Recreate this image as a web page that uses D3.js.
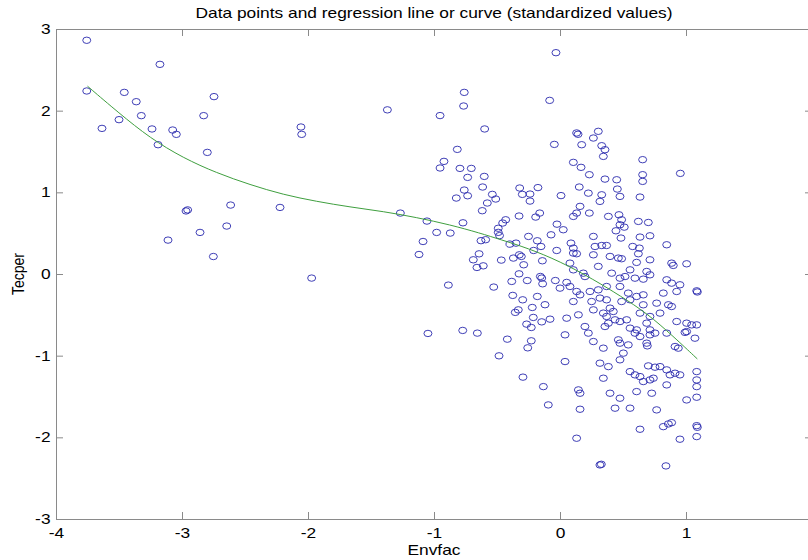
<!DOCTYPE html>
<html>
<head>
<meta charset="utf-8">
<script src="https://cdn.jsdelivr.net/npm/d3@7"></script>
<style>
  html, body { margin: 0; padding: 0; background: #fff; }
  svg { display: block; }
  text { font-family: "Liberation Sans", Arial, Helvetica, sans-serif; }
</style>
</head>
<body>
<svg id="chart" width="808" height="560"></svg>
<script>
// ---------- data ----------
const chartTitle = "Data points and regression line or curve (standardized values)";
const xLabel = "Envfac";
const yLabel = "Tecper";
const xTicks = [-4, -3, -2, -1, 0, 1, 2];
const yTicks = [-3, -2, -1, 0, 1, 2, 3];

// [Envfac, Tecper] observations (standardized)
const observations = [
  // far left group
  [-3.756, 2.862], [-3.756, 2.241], [-3.635, 1.783], [-3.5, 1.89], [-3.458, 2.224],
  [-3.363, 2.11], [-3.323, 1.939], [-3.238, 1.776], [-3.175, 2.567], [-3.19, 1.583],
  [-3.074, 1.763], [-3.045, 1.71], [-2.955, 0.785], [-2.968, 0.772], [-3.111, 0.415],
  [-2.857, 0.509], [-2.828, 1.939], [-2.799, 1.489], [-2.746, 2.172], [-2.751, 0.214],
  [-2.645, 0.587], [-2.614, 0.844], [-2.222, 0.815], [-2.056, 1.8], [-2.05, 1.71],
  [-1.971, -0.05],
  // upper middle
  [-0.032, 2.71], [-0.76, 2.224], [-0.765, 2.057], [-1.37, 2.01], [-0.952, 1.94], [-0.082, 2.126],
  [-0.598, 1.776], [-0.045, 1.587], [-0.815, 1.526], [-0.921, 1.379], [-0.952, 1.298],
  [-0.794, 1.293], [-0.704, 1.293], [-0.733, 1.183], [-0.601, 1.195], [-0.614, 1.065],
  [-0.76, 1.028], [-0.823, 0.93], [-0.733, 0.958], [-0.537, 0.975], [-0.51, 0.918],
  [-0.577, 0.869], [-0.617, 0.775], [-0.32, 1.053], [-0.299, 0.975], [-0.238, 0.979],
  [-0.175, 1.058], [0.008, 0.96], [-0.238, 0.893], [-1.267, 0.746], [-1.056, 0.648],
  [-0.77, 0.627], [-0.979, 0.509], [-0.871, 0.501], [-1.087, 0.398], [-1.119, 0.239],
  [-0.431, 0.664], [-0.455, 0.624], [-0.49, 0.56], [-0.49, 0.51], [-0.48, 0.47],
  [-0.325, 0.71], [-0.193, 0.697], [-0.161, 0.746], [-0.627, 0.408], [-0.59, 0.42],
  [-0.25, 0.46], [-0.18, 0.407], [-0.071, 0.48], [-0.024, 0.61], [-0.397, 0.366],
  [-0.349, 0.378], [-0.642, 0.247], [-0.688, 0.174], [-0.659, 0.08], [-0.609, 0.1],
  [-0.466, 0.17], [-0.37, 0.195], [-0.323, 0.235], [-0.307, 0.215], [-0.288, 0.113],
  [-0.209, 0.288], [-0.14, 0.162], [-0.026, 0.288], [-0.151, 0.337], [-0.886, -0.136],
  [-0.526, -0.16], [-0.383, -0.091], [-0.325, 0.002], [-0.26, -0.08], [-0.156, -0.03],
  [-0.145, -0.05], [-0.037, -0.08], [0.026, 0.542],
  // lower middle
  [-0.138, -0.12], [-0.375, -0.262], [-0.296, -0.316], [-0.18, -0.275], [-0.22, -0.41],
  [-0.119, -0.376], [-0.331, -0.439], [-0.355, -0.47], [-0.212, -0.532], [-0.145, -0.586],
  [-0.265, -0.614], [-0.228, -0.655], [-1.048, -0.728], [-0.772, -0.691], [-0.656, -0.724],
  [-0.418, -0.798], [-0.228, -0.818], [-0.256, -0.904], [-0.484, -1.002], [-0.294, -1.263],
  // right upper cluster
  [0.132, 1.727], [0.143, 1.711], [0.304, 1.747], [0.265, 1.665], [0.331, 1.571],
  [0.357, 1.522], [0.344, 1.44], [0.172, 1.583], [0.656, 1.4], [0.955, 1.232],
  [0.106, 1.367], [0.167, 1.306], [0.233, 1.216], [0.357, 1.162], [0.45, 1.154],
  [0.656, 1.216], [0.656, 1.134], [0.153, 1.065], [0.455, 1.04], [0.476, 0.95],
  [0.225, 0.99], [0.331, 0.97], [0.317, 0.889], [0.635, 0.942], [0.159, 0.828],
  [0.132, 0.746], [0.106, 0.705], [0.233, 0.746], [0.384, 0.705], [0.468, 0.725],
  [0.489, 0.664], [0.476, 0.603], [0.51, 0.574], [0.444, 0.529], [0.622, 0.644],
  [0.701, 0.631], [0.265, 0.46], [0.484, 0.44], [0.635, 0.452], [0.714, 0.468],
  [0.847, 0.358], [0.087, 0.378], [0.106, 0.317], [0.106, 0.256], [0.132, 0.248],
  [0.278, 0.337], [0.331, 0.349], [0.37, 0.349], [0.265, 0.235], [0.577, 0.337],
  [0.63, 0.317], [0.622, 0.248], [0.886, 0.133], [0.899, 0.105], [1.005, 0.125],
  [0.397, 0.215], [0.463, 0.195], [0.489, 0.187], [0.714, 0.174], [0.608, 0.142],
  [0.079, 0.133], [0.053, -0.103], [0.106, 0.051], [0.185, 0.01], [0.198, -0.031],
  [0.304, 0.093], [0.41, 0.01], [0.476, -0.051], [0.516, -0.031], [0.556, 0.051],
  [0.688, 0.031], [0.714, -0.01], [0.661, -0.063], [0.595, -0.051], [0.847, -0.071],
  [0.886, -0.112], [0.952, -0.132],
  // right lower cluster
  [0.0, -0.173], [0.079, -0.153], [0.132, -0.214], [0.159, -0.255], [0.238, -0.214],
  [0.304, -0.194], [0.37, -0.153], [0.476, -0.153], [0.542, -0.234], [0.608, -0.275],
  [0.661, -0.255], [0.82, -0.234], [0.926, -0.214], [1.085, -0.206], [1.09, -0.22],
  [0.106, -0.337], [0.251, -0.337], [0.317, -0.295], [0.37, -0.316], [0.397, -0.418],
  [0.423, -0.459], [0.489, -0.337], [0.556, -0.316], [0.661, -0.377], [0.767, -0.357],
  [0.86, -0.377], [0.886, -0.398],
  [-0.079, -0.553], [0.053, -0.541], [0.146, -0.5], [0.265, -0.439], [0.344, -0.479],
  [0.37, -0.52], [0.437, -0.561], [0.529, -0.561], [0.635, -0.479], [0.714, -0.52],
  [0.794, -0.479], [0.926, -0.582], [1.005, -0.602], [1.045, -0.623], [1.085, -0.623],
  [0.198, -0.643], [0.357, -0.643], [0.384, -0.602], [0.476, -0.582], [0.556, -0.663],
  [0.608, -0.684], [0.688, -0.602], [0.714, -0.684], [0.754, -0.724], [0.847, -0.724],
  [1.005, -0.705], [0.992, -0.715], [1.071, -0.786],
  [0.04, -0.745], [0.225, -0.724], [0.265, -0.827], [0.344, -0.908], [0.463, -0.806],
  [0.476, -0.847], [0.542, -0.868], [0.595, -0.724], [0.635, -0.766], [0.688, -0.847],
  [0.693, -0.88], [0.714, -0.745], [0.913, -0.888], [0.939, -0.908],
  [0.503, -0.969], [0.476, -1.051], [0.317, -1.092], [0.04, -1.072], [0.384, -1.134],
  [0.556, -1.195], [0.595, -1.235], [0.635, -1.256], [0.701, -1.125], [0.754, -1.141],
  [0.794, -1.134], [0.847, -1.174], [0.873, -1.235], [0.913, -1.215], [0.952, -1.235],
  [0.714, -1.297], [0.741, -1.276], [0.661, -1.317], [1.085, -1.195],
  [0.344, -1.276], [-0.132, -1.379], [0.146, -1.419], [0.159, -1.46], [0.397, -1.46],
  [0.476, -1.521], [0.608, -1.44], [0.728, -1.46], [0.847, -1.358], [1.085, -1.297],
  [1.085, -1.379], [1.085, -1.509], [1.005, -1.542],
  [-0.093, -1.603], [0.159, -1.656], [0.437, -1.643], [0.556, -1.643], [0.767, -1.664],
  [0.635, -1.901], [0.82, -1.869], [0.86, -1.836], [0.886, -1.82], [1.085, -1.857],
  [1.09, -1.877], [1.085, -1.991], [0.952, -2.023], [0.132, -2.011],
  [0.317, -2.338], [0.328, -2.33], [0.841, -2.35]
];

// regression curve
const curveEnvfac = [-3.75, -3.5, -3.254, -2.99, -2.725, -2.46, -2.196, -1.931, -1.667, -1.402,
                     -1.137, -0.873, -0.635, -0.47, -0.26, 0.0, 0.27, 0.48, 0.69, 0.9, 1.09];
const curveTecper = [2.30, 1.97, 1.665, 1.42, 1.237, 1.093, 0.971, 0.888, 0.82, 0.766,
                     0.692, 0.603, 0.501, 0.42, 0.319, 0.155, -0.07, -0.27, -0.48, -0.765, -1.04];

// ---------- drawing ----------
(function () {
  const svg = d3.select("#chart");
  const pLeft = 56, pRight = 812, pTop = 29, pBottom = 519;
  const stretch = 1.24; // picture is horizontally stretched

  const x = d3.scaleLinear().domain([-4, 2]).range([pLeft, pRight]);
  const y = d3.scaleLinear().domain([-3, 3]).range([pBottom, pTop]);

  const axisColor = "#8a8a8a";

  function styleAxis(g, withLabels) {
    g.select(".domain").attr("stroke", axisColor);
    g.selectAll(".tick line").attr("stroke", axisColor);
    if (!withLabels) g.selectAll(".tick text").remove();
    g.selectAll(".tick text")
      .attr("fill", "#000")
      .style("font-size", "14px")
      .style("font-family", "'Liberation Sans', Arial, sans-serif");
  }

  const gx = svg.append("g").attr("transform", `translate(0,${pBottom})`)
    .call(d3.axisBottom(x).tickValues(xTicks).tickFormat(d => String(d))
      .tickSize(-7).tickSizeOuter(0).tickPadding(9));
  styleAxis(gx, true);
  gx.selectAll(".tick text").attr("transform", `scale(${stretch},1)`);

  const gy = svg.append("g").attr("transform", `translate(${pLeft},0)`)
    .call(d3.axisLeft(y).tickValues(yTicks).tickFormat(d => String(d))
      .tickSize(-7).tickSizeOuter(0).tickPadding(4.4));
  styleAxis(gy, true);
  gy.selectAll(".tick text").attr("transform", `scale(${stretch},1)`);

  const gt = svg.append("g").attr("transform", `translate(0,${pTop})`)
    .call(d3.axisTop(x).tickValues(xTicks).tickSize(-7).tickSizeOuter(0));
  styleAxis(gt, false);

  const gr = svg.append("g").attr("transform", `translate(${pRight},0)`)
    .call(d3.axisRight(y).tickValues(yTicks).tickSize(-7).tickSizeOuter(0));
  styleAxis(gr, false);

  svg.append("g")
    .selectAll("ellipse")
    .data(observations)
    .join("ellipse")
    .attr("cx", d => x(d[0]))
    .attr("cy", d => y(d[1]))
    .attr("rx", 4.0)
    .attr("ry", 3.2)
    .attr("fill", "none")
    .attr("stroke", "#2a2aae")
    .attr("stroke-width", 0.9);

  const curvePts = curveEnvfac.map((v, i) => [v, curveTecper[i]]);
  svg.append("path")
    .datum(curvePts)
    .attr("fill", "none")
    .attr("stroke", "#3f9f3f")
    .attr("stroke-width", 1)
    .attr("d", d3.line().x(d => x(d[0])).y(d => y(d[1])).curve(d3.curveBasis));

  const cx = (pLeft + pRight) / 2;
  svg.append("text")
    .attr("transform", `translate(${cx},18) scale(${stretch},1)`)
    .attr("text-anchor", "middle")
    .style("font-size", "14px")
    .attr("fill", "#000")
    .text(chartTitle);

  svg.append("text")
    .attr("transform", `translate(${cx},555) scale(${stretch},1)`)
    .attr("text-anchor", "middle")
    .style("font-size", "14px")
    .attr("fill", "#000")
    .text(xLabel);

  svg.append("text")
    .attr("transform", `translate(24,${(pTop + pBottom) / 2}) rotate(-90) scale(1,${stretch})`)
    .attr("text-anchor", "middle")
    .style("font-size", "14px")
    .attr("fill", "#000")
    .text(yLabel);
})();
</script>
</body>
</html>
